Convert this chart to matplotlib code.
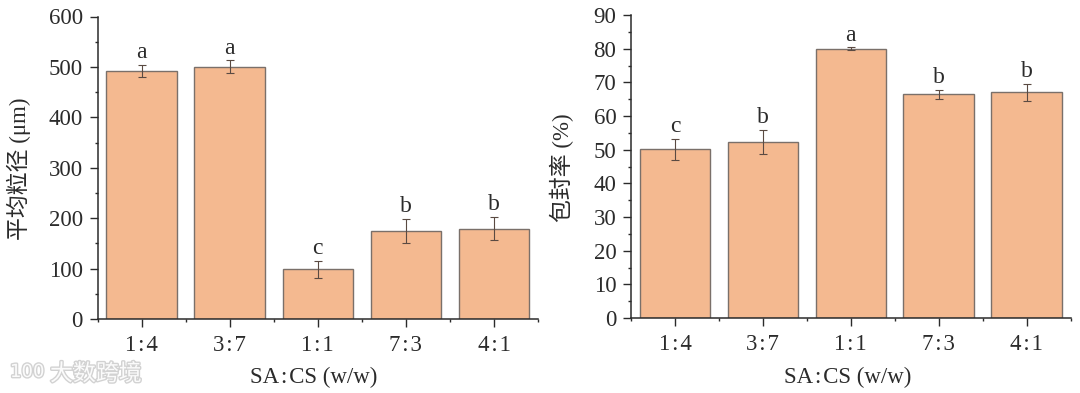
import matplotlib
matplotlib.use('Agg')
import matplotlib.pyplot as plt
import matplotlib.patheffects as pe
from matplotlib.ticker import MultipleLocator

plt.rcParams['font.family'] = ['Liberation Serif', 'Noto Sans CJK SC', 'DejaVu Sans']

ratios = ['1\u200a:\u200a4', '3\u200a:\u200a7', '1\u200a:\u200a1', '7\u200a:\u200a3', '4\u200a:\u200a1']

size_vals = [492, 500, 99, 175, 179]
size_errs = [12, 13, 17, 24, 23]
size_sig = ['a', 'a', 'c', 'b', 'b']

eff_vals = [50.1, 52.3, 80.0, 66.4, 67.1]
eff_errs = [3.2, 3.5, 0.4, 1.4, 2.5]
eff_sig = ['c', 'b', 'a', 'b', 'b']

W, H = 1080, 393
bar_color = '#f4b990'
edge_color = '#7a706a'
dark = '#2b2b2b'


def panel(box, vals, errs, sig, ymax, major, minor, ylabel, ylabel_x, xlabel_x):
    l, t, r, b = box
    ax = fig.add_axes([l / W, 1 - b / H, (r - l) / W, (b - t) / H])
    x = range(len(vals))
    ax.bar(x, vals, width=0.8, color=bar_color, edgecolor=edge_color, linewidth=1.0)
    ax.errorbar(x, vals, yerr=errs, fmt='none', ecolor='#5a4a42', elinewidth=0.8,
                capsize=3, capthick=0.8)
    for i in x:
        ax.text(i, vals[i] + errs[i] + ymax * 0.006, sig[i], ha='center', va='bottom',
                fontsize=17, color=dark)
    ax.set_xlim(-0.5, 4.5)
    ax.set_ylim(0, ymax)
    ax.set_xticks(list(x))
    ax.set_xticklabels(ratios)
    ax.xaxis.set_minor_locator(MultipleLocator(1, offset=0.5))
    ax.yaxis.set_major_locator(MultipleLocator(major))
    ax.yaxis.set_minor_locator(MultipleLocator(minor))
    ax.spines['top'].set_visible(False)
    ax.spines['right'].set_visible(False)
    for s in ['left', 'bottom']:
        ax.spines[s].set_linewidth(1.1)
        ax.spines[s].set_color(dark)
    ax.tick_params(axis='both', which='major', length=5.5, width=1.0, color=dark,
                   labelcolor=dark, labelsize=16.5)
    ax.tick_params(axis='both', which='minor', length=2.5, width=1.0, color=dark)
    ax.tick_params(axis='x', which='major', pad=6)
    ax.tick_params(axis='y', which='major', pad=5)
    fig.text(ylabel_x / W, 1 - ((b + t) / 2 + 1) / H, ylabel, rotation=90, ha='center',
             va='center', fontsize=16.5, color=dark)
    fig.text(xlabel_x / W, 1 - 377 / H, 'SA\u200a:\u200aCS (w/w)', ha='center', va='center',
             fontsize=16.5, color=dark)
    return ax


fig = plt.figure(figsize=(W / 100, H / 100), dpi=100)

panel((97.5, 16.5, 538, 319), size_vals, size_errs, size_sig, 600, 100, 50,
      '平均粒径 (μm)', 19, 314)
panel((631, 15, 1070.5, 318), eff_vals, eff_errs, eff_sig, 90, 10, 5,
      '包封率 (%)', 562, 848)

# faint watermark bottom left
halo = [pe.withStroke(linewidth=2, foreground='#d2d2d2')]
fig.text(50 / W, 1 - 374 / H, '大数跨境', ha='left', va='center', fontsize=16.5,
         color='#fbfbfb', family=['Noto Sans CJK SC', 'DejaVu Sans'], path_effects=halo)
fig.text(10 / W, 1 - 372 / H, '100', ha='left', va='center', fontsize=13,
         color='#fbfbfb', family=['DejaVu Sans'], path_effects=halo)

fig.savefig('out.png', dpi=100)
